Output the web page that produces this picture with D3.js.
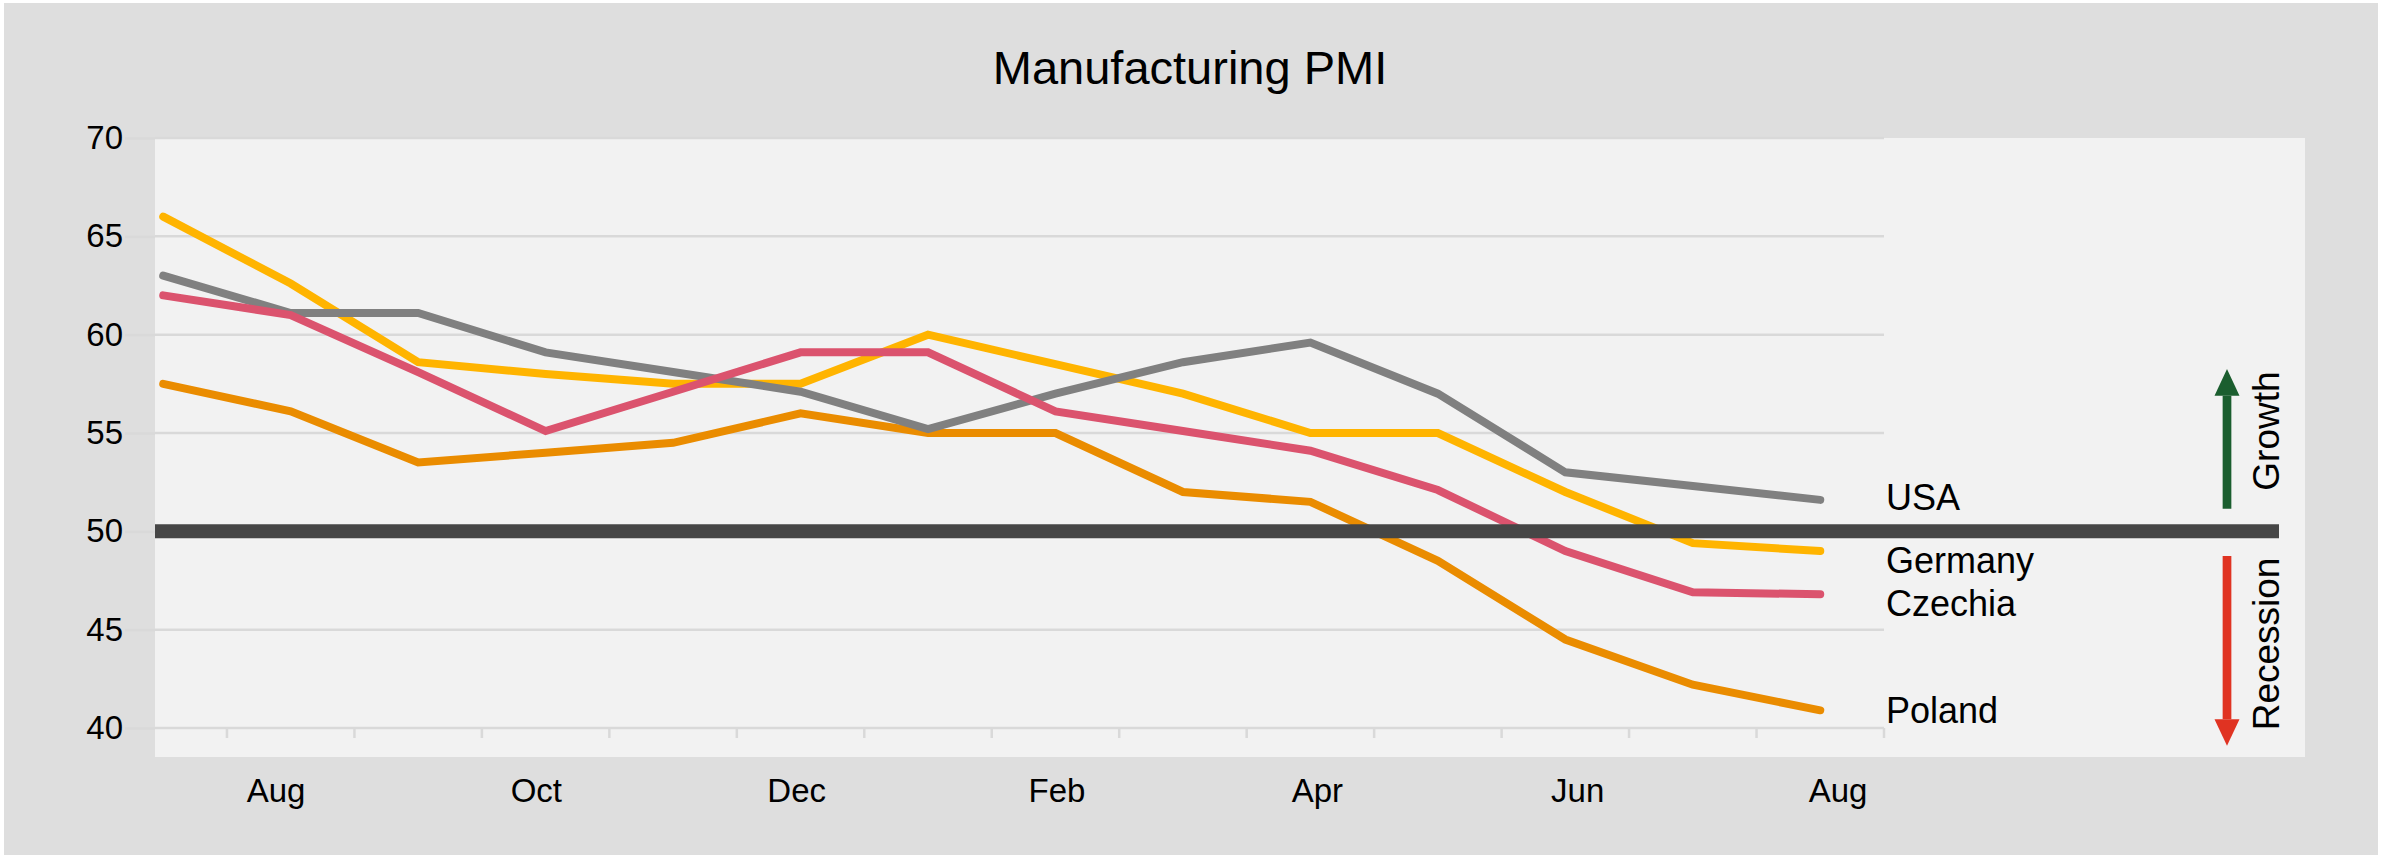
<!DOCTYPE html>
<html>
<head>
<meta charset="utf-8">
<script src="https://cdn.jsdelivr.net/npm/d3@7/dist/d3.min.js"></script>
<style>
  html, body { margin: 0; padding: 0; background: #ffffff; }
  svg { display: block; }
  text { font-family: "Liberation Sans", Arial, Helvetica, sans-serif; fill: #000; }
</style>
</head>
<body>
<script>
// ---------- data ----------
const months = ["Jul","Aug","Sep","Oct","Nov","Dec","Jan","Feb","Mar","Apr","May","Jun","Jul","Aug"];
const xTickLabels = ["Aug","Oct","Dec","Feb","Apr","Jun","Aug"];
const yTicks = [40,45,50,55,60,65,70];
const seriesNames = ["Germany","Poland","USA","Czechia"];
const germany = [66, 62.6, 58.6, 58, 57.5, 57.5, 60, 58.5, 57, 55, 55, 52, 49.4, 49];
const poland  = [57.5, 56.1, 53.5, 54, 54.5, 56, 55, 55, 52, 51.5, 48.5, 44.5, 42.2, 40.9];
const usa     = [63, 61.1, 61.1, 59.1, 58.1, 57.1, 55.2, 57, 58.6, 59.6, 57, 53, 52.3, 51.6];
const czechia = [62, 61, 58.1, 55.1, 57.1, 59.1, 59.1, 56.1, 55.1, 54.1, 52.1, 49, 46.9, 46.8];
const threshold = 50;
const title = "Manufacturing PMI";

// ---------- styles ----------
const colors = {Germany:"#ffb400", Poland:"#ea8c00", USA:"#808080", Czechia:"#db536e"};
const W = 2381, H = 855;

const svg = d3.select("body").append("svg").attr("width", W).attr("height", H);

// backgrounds
svg.append("rect").attr("x",4).attr("y",3).attr("width",2374).attr("height",852).attr("fill","#dedede");
const plot = {left:155, top:138, right:2305, bottom:757};
svg.append("rect").attr("x",plot.left).attr("y",plot.top)
  .attr("width",plot.right-plot.left).attr("height",plot.bottom-plot.top).attr("fill","#f2f2f2");

// scales
const x = d3.scaleBand().domain(d3.range(months.length)).range([99.5, 1884]).paddingInner(0).paddingOuter(0);
const xc = i => x(i) + x.bandwidth()/2;
const y = d3.scaleLinear().domain([40,70]).range([728,138]);
const xl = d3.scalePoint().domain(d3.range(xTickLabels.length)).range([276, 1838]);

// gridlines
svg.append("g").selectAll("line").data(yTicks).join("line")
  .attr("x1", plot.left).attr("x2", 1884)
  .attr("y1", d=>y(d)).attr("y2", d=>y(d))
  .attr("stroke","#d9d9d9").attr("stroke-width",2.5);

// y axis
const yAxis = d3.axisLeft(y).tickValues(yTicks).tickSize(30).tickPadding(2).tickFormat(d3.format("d"));
const gy = svg.append("g").attr("transform",`translate(${plot.left},0)`).call(yAxis);
gy.select(".domain").remove();
gy.selectAll(".tick line").attr("stroke","#d9d9d9").attr("stroke-width",2.5);
gy.selectAll(".tick text").attr("font-size",33).attr("font-family","Liberation Sans, Arial, sans-serif").attr("fill","#000");

// x axis tick marks at category boundaries
svg.append("g").selectAll("line").data(d3.range(months.length)).join("line")
  .attr("x1", i=>x(i)+x.bandwidth()).attr("x2", i=>x(i)+x.bandwidth())
  .attr("y1", y(40)).attr("y2", y(40)+10)
  .attr("stroke","#d9d9d9").attr("stroke-width",2.5);

// x labels
svg.append("g").selectAll("text").data(d3.range(xTickLabels.length)).join("text")
  .attr("x", i=>xl(i)).attr("y", 802)
  .attr("text-anchor","middle").attr("font-size",33)
  .text(i=>xTickLabels[i]);

// lines
const seriesData = {Germany:germany, Poland:poland, USA:usa, Czechia:czechia};
const line = d3.line().x((d,i)=>xc(i)).y(d=>y(d));
svg.append("g").selectAll("path").data(seriesNames).join("path")
  .attr("d", n=>line(seriesData[n]))
  .attr("fill","none").attr("stroke", n=>colors[n])
  .attr("stroke-width",8).attr("stroke-linecap","round").attr("stroke-linejoin","miter");

// threshold line
svg.append("line").attr("x1",plot.left).attr("x2",2279)
  .attr("y1",y(threshold)).attr("y2",y(threshold))
  .attr("stroke","#464646").attr("stroke-width",14);

// end labels
const labelOrder = ["USA","Germany","Czechia","Poland"];
const labelNudge = {USA:-3, Germany:9, Czechia:9, Poland:0};
svg.append("g").selectAll("text").data(labelOrder).join("text")
  .attr("x", 1886)
  .attr("y", n=>y(seriesData[n][seriesData[n].length-1]) + 13 + labelNudge[n])
  .attr("font-size",36)
  .text(n=>n);

// title
svg.append("text").attr("x",1190).attr("y",84).attr("text-anchor","middle")
  .attr("font-size",47).text(title);

// growth / recession arrows
const ax = 2227;
const g1 = svg.append("g");
g1.append("line").attr("x1",ax).attr("x2",ax).attr("y1",y(51.15)).attr("y2",y(56.9))
  .attr("stroke","#1b5e2f").attr("stroke-width",8.7);
g1.append("path").attr("d", d3.path ? (()=>{const p=d3.path(); p.moveTo(ax, y(58.25)); p.lineTo(ax+12.5, y(56.9)); p.lineTo(ax-12.5, y(56.9)); p.closePath(); return p.toString();})() : "")
  .attr("fill","#1b5e2f");
g1.append("line").attr("x1",ax).attr("x2",ax).attr("y1",y(48.75)).attr("y2",y(40.45))
  .attr("stroke","#e03322").attr("stroke-width",8.7);
g1.append("path").attr("d", (()=>{const p=d3.path(); p.moveTo(ax, y(39.1)); p.lineTo(ax+12.5, y(40.45)); p.lineTo(ax-12.5, y(40.45)); p.closePath(); return p.toString();})())
  .attr("fill","#e03322");

svg.append("text").attr("transform",`translate(2279,${(y(58.1)+y(52.1))/2}) rotate(-90)`)
  .attr("text-anchor","middle").attr("font-size",37).text("Growth");
svg.append("text").attr("transform",`translate(2279,${(y(48.6)+y(39.95))/2}) rotate(-90)`)
  .attr("text-anchor","middle").attr("font-size",37).text("Recession");
</script>
</body>
</html>
